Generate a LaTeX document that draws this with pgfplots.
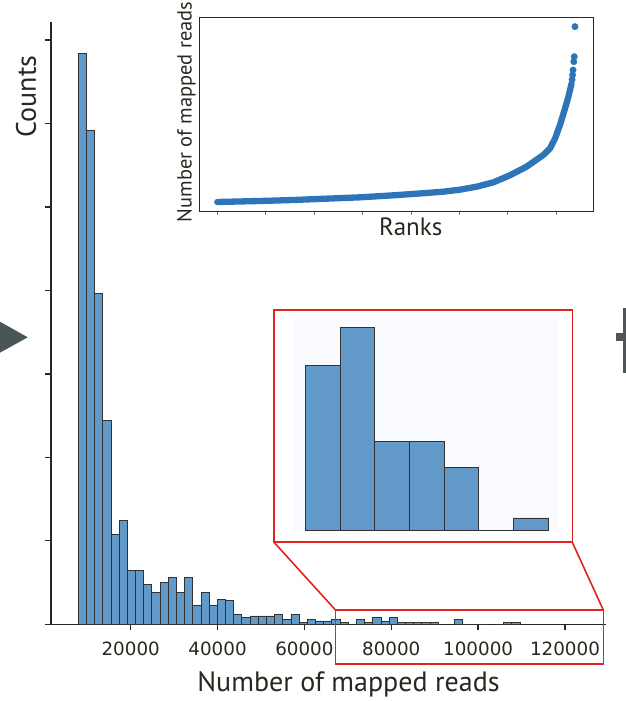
\documentclass[border=0pt]{standalone}
\usepackage{pgfplots}
\pgfplotsset{compat=1.18}
\usepackage{fontspec}
\setmainfont{PT Sans}
\newfontfamily\tickfont{DejaVu Sans}
\definecolor{barblue}{RGB}{97,153,200}
\definecolor{baredge}{RGB}{50,50,50}
\definecolor{axcol}{RGB}{42,38,32}
\definecolor{dotblue}{RGB}{46,116,184}
\definecolor{boxred}{RGB}{226,35,31}
\definecolor{insetbg}{RGB}{250,251,254}
\definecolor{arrowgray}{RGB}{74,85,86}
\definecolor{crossgray}{RGB}{80,85,87}
\begin{document}
\begin{tikzpicture}[x=1pt,y=1pt]
\path[use as bounding box] (0,0) rectangle (626,701);

% ---------------- main histogram ----------------
\begin{axis}[
  at={(51pt,76.7pt)}, anchor=south west, scale only axis,
  width=555pt, height=602.3pt,
  xmin=1649, xmax=129440, ymin=0, ymax=360.8,
  axis x line=bottom, axis y line=left,
  axis line style={axcol, line width=1.3pt, -},
  tick align=outside, major tick length=6pt,
  tick style={axcol, line width=1.3pt},
  scaled x ticks=false, scaled y ticks=false,
  xtick={20000,40000,60000,80000,100000,120000},
  xticklabels={20000,40000,60000,80000,100000,120000},
  xticklabel style={font=\tickfont\fontsize{18.3}{20}\selectfont, text=axcol, yshift=-8pt},
  ytick={0,50,100,150,200,250,300,350},
  yticklabels={},
]
\addplot[ybar, bar width=1883.5, bar shift=0pt, fill=barblue, draw=baredge, line width=0.9pt] coordinates {
(8877,342) (10760,296) (12644,198) (14527,122) (16411,54) (18294,62)
(20178,32) (22061,32) (23945,24) (25828,19) (27712,25) (29595,28)
(31479,19) (33362,28) (35246,11) (37129,19) (39013,11) (40896,15)
(42780,14) (44663,6) (46547,4) (48430,5) (50314,5) (52197,5)
(54081,6) (55964,3) (57848,6) (59731,1) (61615,3) (63498,2)
(65382,2) (67265,3) (69149,1) (72916,3) (74799,1)
(76683,4) (78566,2) (80450,4) (82333,1) (84217,1) (86100,1)
(87984,1) (89867,1) (95518,3) (97401,0) (99285,0) (101168,0)
(104935,0) (106819,1) (108702,1)
};
\end{axis}

% ---------------- rank inset ----------------
\begin{axis}[
  at={(199.3pt,489.3pt)}, anchor=south west, scale only axis,
  width=394pt, height=194.4pt,
  xmin=-74.4, xmax=1553.7, ymin=2308, ymax=115089,
  axis line style={axcol, line width=1.5pt},
  xtick={0,200,400,600,800,1000,1200,1400}, xticklabels={},
  xtick pos=bottom, ytick=\empty,
  tick align=outside, major tick length=3.5pt,
  tick style={black!55, line width=0.8pt},
]
\addplot[dotblue, line width=6.3pt, line cap=round, line join=round] coordinates {
(0,7935) (176,8515) (314,9095) (452,9868) (590,10644) (727,11805)
(865,13157) (934,13928) (1003,15089) (1072,16830) (1141,19345)
(1209,23407) (1278,28430) (1347,35200) (1375,39070) (1396,44870)
(1416,52600) (1437,62280) (1451,69040) (1464,76780)
};
\addplot[only marks, mark=*, mark size=3.2pt, color=dotblue, mark options={draw=none}] coordinates {
(1466,78900) (1468,81615) (1470,84515) (1473,89350) (1475,92250) (1478,109650)
};
\end{axis}

% ---------------- zoomed tail inset ----------------
\begin{axis}[
  at={(292.7pt,169.3pt)}, anchor=south west, scale only axis,
  width=266.6pt, height=214.4pt,
  xmin=-0.363, xmax=7.317, ymin=-0.079, ymax=16.8,
  xtick=\empty, ytick=\empty,
  axis line style={draw=none},
  axis background/.style={fill=insetbg},
]
\addplot[ybar, bar width=1, bar shift=0pt, fill=barblue, draw=baredge, line width=0.9pt] coordinates {
(0.5,13) (1.5,16) (2.5,7) (3.5,7) (4.5,5) (5.5,0) (6.5,1)
};
\end{axis}

% ---------------- red zoom boxes ----------------
\draw[boxred, line width=1.6pt] (274,158.7) rectangle (572.3,391);
\draw[boxred, line width=1.6pt] (335.5,37) rectangle (603.3,91);
\draw[boxred, line width=1.6pt] (274,158.7) -- (335.5,91);
\draw[boxred, line width=1.6pt] (572.3,158.7) -- (603.3,91);

% ---------------- labels ----------------
\node[rotate=90, font=\fontsize{28}{30}\selectfont, text=axcol] at (26,604.5) {Counts};
\node[anchor=base, font=\fontsize{28}{30}\selectfont, text=axcol] at (348.5,9.5) {Number of mapped reads};
\node[anchor=base, font=\fontsize{25}{27}\selectfont, text=axcol] at (410.8,465) {Ranks};
\node[rotate=90, font=\fontsize{20.4}{22}\selectfont, text=axcol] at (186.5,589) {Number of mapped reads};

% ---------------- cut-off neighbouring glyphs ----------------
\fill[arrowgray] (0,379.3) -- (27.7,363.7) -- (0,348.3) -- cycle;
\fill[crossgray] (622.7,393) rectangle (626,328);
\fill[crossgray] (616,367.7) rectangle (626,360.3);
\end{tikzpicture}
\end{document}
